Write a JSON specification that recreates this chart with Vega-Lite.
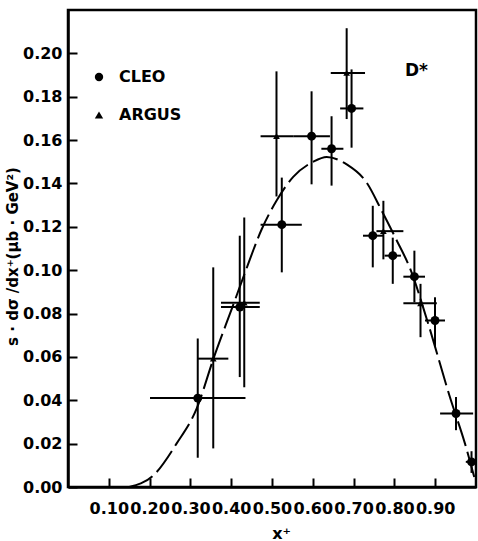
{
  "$schema": "https://vega.github.io/schema/vega-lite/v6.json",
  "width": 408,
  "height": 477,
  "autosize": "none",
  "padding": {"left": 68, "top": 10, "right": 2, "bottom": 54},
  "background": "white",
  "config": {
    "view": {"stroke": "black", "strokeWidth": 2.5},
    "font": "DejaVu Sans",
    "axis": {
      "domainColor": "black", "domainWidth": 2.5,
      "tickColor": "black", "tickWidth": 2, "tickSize": -9,
      "grid": false,
      "labelFont": "DejaVu Sans", "labelFontSize": 16,
      "labelFontWeight": "bold", "labelColor": "black",
      "titleColor": "black", "titleFont": "DejaVu Sans", "titleFontWeight": "bold",
      "labelOverlap": false, "labelFlush": false
    }
  },
  "datasets": {
    "curve": [
      {"x": 0.15, "y": 0.0},
      {"x": 0.21, "y": 0.0055},
      {"x": 0.266, "y": 0.020},
      {"x": 0.315, "y": 0.036},
      {"x": 0.358, "y": 0.060},
      {"x": 0.403, "y": 0.083},
      {"x": 0.436, "y": 0.100},
      {"x": 0.475, "y": 0.119},
      {"x": 0.511, "y": 0.132},
      {"x": 0.552, "y": 0.143},
      {"x": 0.601, "y": 0.150},
      {"x": 0.634, "y": 0.1522},
      {"x": 0.683, "y": 0.1488},
      {"x": 0.732, "y": 0.1404},
      {"x": 0.769, "y": 0.1274},
      {"x": 0.806, "y": 0.1136},
      {"x": 0.838, "y": 0.101},
      {"x": 0.883, "y": 0.0752},
      {"x": 0.936, "y": 0.0415},
      {"x": 0.973, "y": 0.020},
      {"x": 0.998, "y": 0.003}
    ],
    "pts": [
      {"exp": "CLEO", "x": 0.318, "y": 0.041, "xlo": 0.201, "xhi": 0.435, "ylo": 0.0135, "yhi": 0.0685},
      {"exp": "CLEO", "x": 0.421, "y": 0.083, "xlo": 0.375, "xhi": 0.470, "ylo": 0.0507, "yhi": 0.1159},
      {"exp": "CLEO", "x": 0.524, "y": 0.121, "xlo": 0.472, "xhi": 0.573, "ylo": 0.099, "yhi": 0.1427},
      {"exp": "CLEO", "x": 0.597, "y": 0.1618, "xlo": 0.552, "xhi": 0.642, "ylo": 0.1396, "yhi": 0.1825},
      {"exp": "CLEO", "x": 0.646, "y": 0.156, "xlo": 0.621, "xhi": 0.675, "ylo": 0.139, "yhi": 0.171},
      {"exp": "CLEO", "x": 0.695, "y": 0.1746, "xlo": 0.667, "xhi": 0.724, "ylo": 0.1565, "yhi": 0.1926},
      {"exp": "CLEO", "x": 0.747, "y": 0.1159, "xlo": 0.723, "xhi": 0.772, "ylo": 0.1013, "yhi": 0.1297},
      {"exp": "CLEO", "x": 0.796, "y": 0.1067, "xlo": 0.776, "xhi": 0.816, "ylo": 0.0937, "yhi": 0.115},
      {"exp": "CLEO", "x": 0.849, "y": 0.097, "xlo": 0.822, "xhi": 0.875, "ylo": 0.0852, "yhi": 0.109},
      {"exp": "CLEO", "x": 0.8995, "y": 0.0768, "xlo": 0.875, "xhi": 0.924, "ylo": 0.0645, "yhi": 0.0875},
      {"exp": "CLEO", "x": 0.951, "y": 0.0339, "xlo": 0.912, "xhi": 0.993, "ylo": 0.0262, "yhi": 0.0415},
      {"exp": "CLEO", "x": 0.989, "y": 0.0116, "xlo": 0.975, "xhi": 1.0, "ylo": 0.0065, "yhi": 0.0165},
      {"exp": "ARGUS", "x": 0.356, "y": 0.0592, "xlo": 0.317, "xhi": 0.393, "ylo": 0.0178, "yhi": 0.1013},
      {"exp": "ARGUS", "x": 0.432, "y": 0.085, "xlo": 0.375, "xhi": 0.470, "ylo": 0.046, "yhi": 0.1243},
      {"exp": "ARGUS", "x": 0.511, "y": 0.1618, "xlo": 0.472, "xhi": 0.552, "ylo": 0.134, "yhi": 0.1917},
      {"exp": "ARGUS", "x": 0.683, "y": 0.191, "xlo": 0.644, "xhi": 0.728, "ylo": 0.1697, "yhi": 0.2116},
      {"exp": "ARGUS", "x": 0.773, "y": 0.118, "xlo": 0.756, "xhi": 0.822, "ylo": 0.105, "yhi": 0.132},
      {"exp": "ARGUS", "x": 0.864, "y": 0.0847, "xlo": 0.822, "xhi": 0.904, "ylo": 0.0691, "yhi": 0.0937}
    ],
    "notes": [
      {"label": "D*", "x": 0.826, "y": 0.1917}
    ]
  },
  "layer": [
    {
      "data": {"name": "curve"},
      "mark": {"type": "line", "stroke": "black", "strokeWidth": 2, "strokeDash": [26, 6], "interpolate": "monotone"},
      "encoding": {
        "x": {"field": "x", "type": "quantitative",
              "scale": {"domain": [0, 1], "nice": false, "zero": false},
              "axis": {"orient": "bottom", "values": [0.1, 0.2, 0.3, 0.4, 0.5, 0.6, 0.7, 0.8, 0.9],
                       "format": ".2f",
                       "labelPadding": 22, "title": "x⁺", "titleFontSize": 16,
                       "titleX": 213, "titleY": 46, "titleBaseline": "middle", "titleAlign": "center"}},
        "y": {"field": "y", "type": "quantitative",
              "scale": {"domain": [0, 0.22], "nice": false},
              "axis": {"orient": "left", "values": [0, 0.02, 0.04, 0.06, 0.08, 0.1, 0.12, 0.14, 0.16, 0.18, 0.2],
                       "format": ".2f",
                       "labelPadding": 15, "title": "s · dσ /dx⁺(μb · GeV²)", "titleFontSize": 15,
                       "titleAngle": -90, "titleX": -56, "titleY": 246, "titleBaseline": "middle", "titleAlign": "center"}}
      }
    },
    {
      "data": {"name": "pts"},
      "mark": {"type": "rule", "stroke": "black", "strokeWidth": 2},
      "encoding": {
        "x": {"field": "xlo", "type": "quantitative"},
        "x2": {"field": "xhi"},
        "y": {"field": "y", "type": "quantitative"}
      }
    },
    {
      "data": {"name": "pts"},
      "mark": {"type": "rule", "stroke": "black", "strokeWidth": 2},
      "encoding": {
        "x": {"field": "x", "type": "quantitative"},
        "y": {"field": "ylo", "type": "quantitative"},
        "y2": {"field": "yhi"}
      }
    },
    {
      "data": {"name": "notes"},
      "mark": {"type": "text", "font": "DejaVu Sans", "fontSize": 17, "fontWeight": "bold", "color": "black", "align": "left", "baseline": "middle"},
      "encoding": {
        "x": {"field": "x", "type": "quantitative"},
        "y": {"field": "y", "type": "quantitative"},
        "text": {"field": "label"}
      }
    },
    {
      "data": {"name": "pts"},
      "mark": {"type": "point", "filled": true, "color": "black", "opacity": 1},
      "encoding": {
        "x": {"field": "x", "type": "quantitative"},
        "y": {"field": "y", "type": "quantitative"},
        "shape": {"field": "exp", "type": "nominal",
                  "scale": {"domain": ["CLEO", "ARGUS"], "range": ["circle", "triangle-up"]},
                  "legend": {"orient": "none", "legendX": 23, "legendY": 59, "title": null,
                             "labelFont": "DejaVu Sans", "labelFontSize": 16, "labelFontWeight": "bold", "labelColor": "black",
                             "symbolFillColor": "black", "symbolStrokeColor": "black", "symbolSize": 70, "symbolStrokeWidth": 0,
                             "rowPadding": 22, "labelOffset": 12, "padding": 0}},
        "size": {"condition": {"test": "datum.exp === 'ARGUS'", "value": 45}, "value": 80}
      }
    }
  ]
}
